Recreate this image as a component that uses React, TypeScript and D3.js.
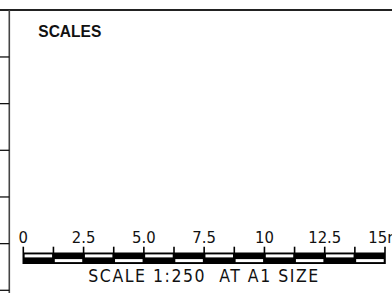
import React from "react";
import * as d3 from "d3";

const W = 392;
const H = 293;

const title = "SCALES";
const caption = "SCALE 1:250  AT A1 SIZE";
const scaleMax = 15;
const segmentStep = 1.25;
const labelValues = [0, 2.5, 5, 7.5, 10, 12.5, 15];
const labelTexts = ["0", "2.5", "5.0", "7.5", "10", "12.5", "15m"];
const frameTickIndex = [1, 2, 3, 4, 5, 6];

export default function App() {
  const x = d3.scaleLinear().domain([0, scaleMax]).range([23.3, 385]);
  const fy = d3.scaleLinear().domain([0, 6]).range([10, 290]);
  const segs = d3.range(0, scaleMax / segmentStep).map((i) => i * segmentStep);
  const ticks = d3.range(0, scaleMax / segmentStep + 1).map((i) => i * segmentStep);
  const barTop = 252.5;
  const barBot = 264;
  return (
    <svg
      width={W}
      height={H}
      style={{ position: "absolute", left: 0, top: 0, background: "#fff" }}
    >
      <rect x={0} y={0} width={W} height={H} fill="#fff" />
      {/* frame */}
      <line x1={0} x2={W} y1={10} y2={10} stroke="#222" strokeWidth={2} />
      <line x1={9.3} x2={9.3} y1={10} y2={H} stroke="#444" strokeWidth={1.6} />
      {frameTickIndex.map((i) => (
        <line key={i} x1={0} x2={9.3} y1={fy(i) + 0.3} y2={fy(i) + 0.3} stroke="#111" strokeWidth={1.3} />
      ))}
      <text
        x={38.3}
        y={36.7}
        fontFamily="Liberation Sans, Arial, sans-serif"
        fontWeight="bold"
        fontSize={16.5}
        textLength={63}
        lengthAdjust="spacingAndGlyphs"
        fill="#111"
      >
        {title}
      </text>
      {/* scale bar */}
      <rect x={x(0)} y={barTop} width={x(scaleMax) - x(0)} height={barBot - barTop} fill="#000" />
      {segs.map((v, i) => (
        <rect
          key={"w" + i}
          x={x(v) + 1.3}
          y={i % 2 === 0 ? 254.4 : 259.1}
          width={x(v + segmentStep) - x(v) - 2.6}
          height={3}
          fill="#fff"
        />
      ))}
      {ticks.map((v, i) => (
        <line key={"t" + i} x1={x(v)} x2={x(v)} y1={246.7} y2={barBot} stroke="#000" strokeWidth={1.6} />
      ))}
      {labelValues.map((v, i) => (
        <text
          key={"l" + i}
          x={x(v)}
          y={243.3}
          textAnchor="middle"
          fontFamily="DejaVu Sans Condensed, DejaVu Sans, sans-serif"
          fontSize={16.5}
          fill="#111"
        >
          {labelTexts[i]}
        </text>
      ))}
      <text
        x={88.3}
        y={281.5}
        fontFamily="DejaVu Sans Condensed, DejaVu Sans, sans-serif"
        fontSize={17.5}
        textLength={230}
        lengthAdjust="spacing"
        fill="#111"
        style={{ whiteSpace: "pre" }}
      >
        {caption}
      </text>
    </svg>
  );
}
